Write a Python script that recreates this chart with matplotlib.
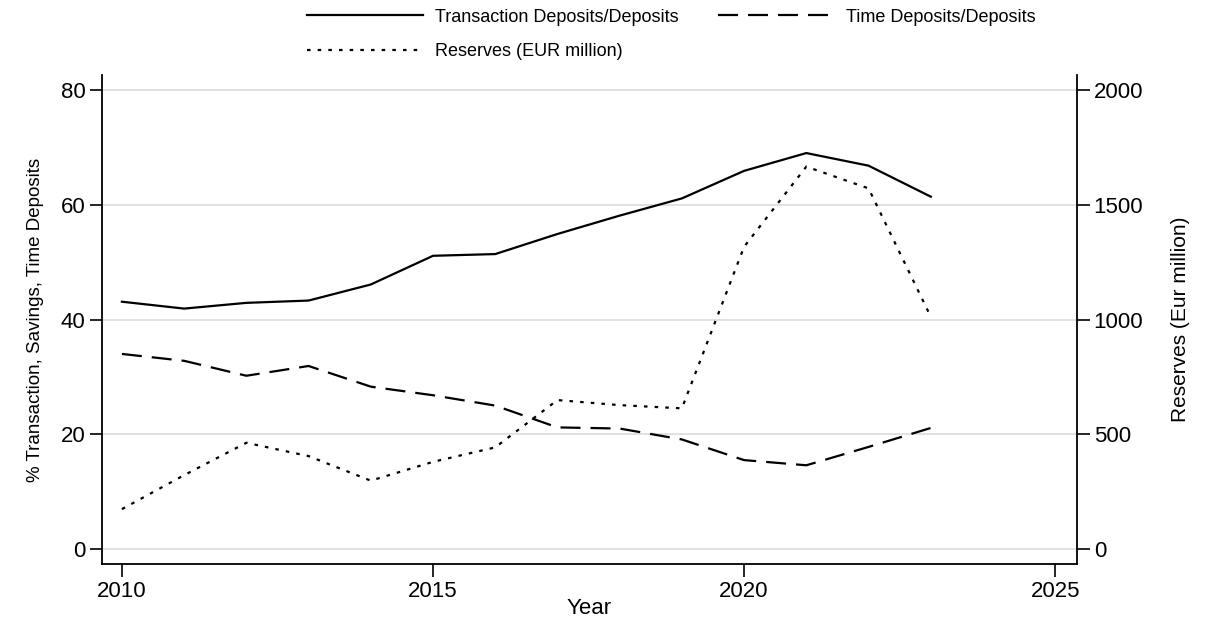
import matplotlib.pyplot as plt

plt.rcParams['font.family'] = ['Liberation Sans', 'DejaVu Sans']

years = [2010, 2011, 2012, 2013, 2014, 2015, 2016, 2017, 2018, 2019, 2020, 2021, 2022, 2023]
transaction_share = [43.1, 41.9, 42.9, 43.3, 46.1, 51.1, 51.4, 54.9, 58.1, 61.1, 65.9, 69.0, 66.8, 61.4]
time_share = [34.0, 32.8, 30.2, 31.9, 28.3, 26.8, 25.0, 21.2, 21.0, 19.1, 15.5, 14.6, 17.8, 21.1]
reserves = [174, 322, 463, 405, 298, 380, 443, 649, 627, 613, 1317, 1666, 1571, 1012]

left_ticks = [0, 20, 40, 60, 80]
right_ticks = [0, 500, 1000, 1500, 2000]
x_ticks = [2010, 2015, 2020, 2025]

fig = plt.figure(figsize=(12.16, 6.21), dpi=100)
ax = fig.add_axes([102 / 1216, 57 / 621, 975 / 1216, 489 / 621])
ax2 = ax.twinx()

lw = 1.6
l1, = ax.plot(years, transaction_share, color='black', lw=lw, label='Transaction Deposits/Deposits')
l2, = ax.plot(years, time_share, color='black', lw=lw, dashes=(9, 4.5), label='Time Deposits/Deposits')
l3, = ax2.plot(years, reserves, color='black', lw=lw, dashes=(1.6, 3.2), label='Reserves (EUR million)')

ax.set_xlim(2009.68, 2025.35)
ax.set_ylim(-2.6, 82.6)
ax2.set_ylim(-65, 2065)

ax.set_xticks(x_ticks)
ax.set_yticks(left_ticks)
ax2.set_yticks(right_ticks)
ax.grid(axis='y', color='#dcdcdc', lw=1.2)
ax.grid(axis='x', visible=False)

for a in (ax, ax2):
    a.spines['top'].set_visible(False)
    for s in ('left', 'right', 'bottom'):
        a.spines[s].set_linewidth(1.3)
    a.tick_params(direction='out', length=9, width=1.2, labelsize=16, pad=3)
ax.spines['right'].set_visible(False)
ax2.spines['left'].set_visible(False)
ax2.spines['bottom'].set_visible(False)

ax.set_xlabel('Year', fontsize=16, labelpad=-3)
ax.set_ylabel('% Transaction, Savings, Time Deposits', fontsize=13.5, labelpad=12)
ax2.set_ylabel('Reserves (Eur million)', fontsize=15, labelpad=20)

# column-major fill: solid + dotted in the first column, dashed in the second
fig.legend(handles=[l1, l3, l2], loc='upper left', bbox_to_anchor=(291 / 1216, 1.012),
           ncol=2, frameon=False, fontsize=13, handlelength=6.4, handletextpad=0.67,
           columnspacing=2.2, labelspacing=0.95)

fig.savefig('out.png', dpi=100)
